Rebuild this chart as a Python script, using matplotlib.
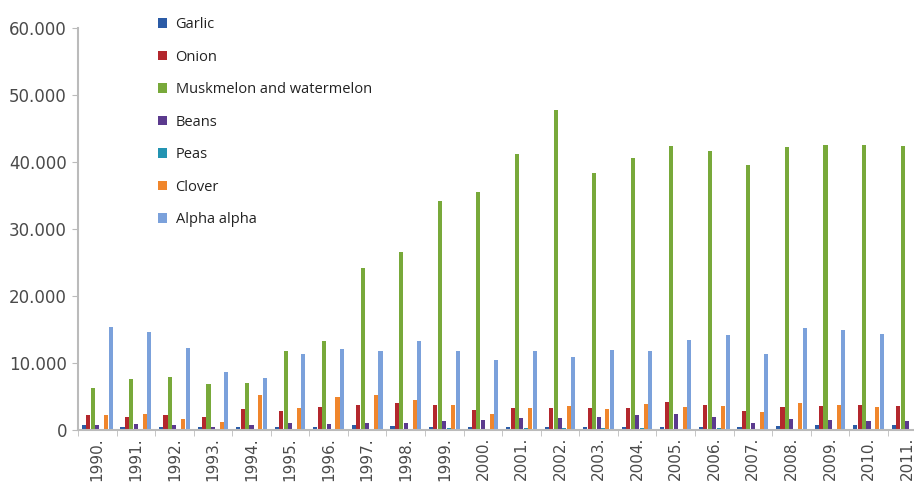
import matplotlib.pyplot as plt
import numpy as np

years = ['1990.', '1991.', '1992.', '1993.', '1994.', '1995.', '1996.', '1997.',
         '1998.', '1999.', '2000.', '2001.', '2002.', '2003.', '2004.', '2005.',
         '2006.', '2007.', '2008.', '2009.', '2010.', '2011.']

garlic = [800, 400, 400, 400, 500, 500, 500, 700, 600, 500, 400,
          500, 500, 500, 500, 400, 500, 500, 600, 800, 800, 800]
onion = [2200, 2000, 2200, 1900, 3100, 2900, 3400, 3800, 4000, 3800, 3000,
         3300, 3300, 3300, 3300, 4200, 3800, 2800, 3500, 3600, 3800, 3600]
melon = [6300, 7600, 7900, 6800, 7000, 11800, 13300, 24200, 26500, 34200, 35500,
         41200, 47700, 38400, 40600, 42400, 41600, 39500, 42200, 42600, 42600, 42400]
beans = [800, 900, 700, 500, 800, 1100, 900, 1100, 1100, 1400, 1500,
         1800, 1800, 2000, 2200, 2400, 2000, 1000, 1700, 1500, 1300, 1400]
peas = [200, 150, 150, 100, 150, 200, 150, 200, 200, 250, 200,
        250, 250, 250, 250, 200, 250, 200, 200, 200, 200, 200]
clover = [2200, 2400, 1700, 1200, 5200, 3300, 5000, 5200, 4500, 3800, 2400,
          3300, 3600, 3100, 3900, 3500, 3600, 2700, 4000, 3800, 3500, 3700]
alpha = [15400, 14600, 12200, 8700, 7700, 11400, 12100, 11800, 13300, 11800, 10500,
         11800, 10900, 11900, 11800, 13500, 14200, 11400, 15200, 15000, 14400, 14000]

series = [
    ('Garlic', garlic, '#2B5BA6'),
    ('Onion', onion, '#B3272D'),
    ('Muskmelon and watermelon', melon, '#78A93A'),
    ('Beans', beans, '#5B3A8E'),
    ('Peas', peas, '#2394B2'),
    ('Clover', clover, '#F0862C'),
    ('Alpha alpha', alpha, '#7BA1DB'),
]

fig = plt.figure(figsize=(9.14, 4.83), dpi=100)
ax = fig.add_axes([78 / 914, 53 / 483, 1 - 78 / 914, 402 / 483])

x = np.arange(len(years))
w = 0.115
for i, (name, vals, col) in enumerate(series):
    ax.bar(x + (i - 3) * w, vals, width=w * 0.92, color=col, label=name)

ax.set_ylim(0, 60000)
ax.set_xlim(-0.5, 21.18)
ax.set_yticks(np.arange(0, 60001, 10000))
ax.set_yticklabels(['0', '10.000', '20.000', '30.000', '40.000', '50.000', '60.000'])
ax.set_xticks(x)
ax.set_xticklabels(years, rotation=90)
ax.set_xticks(np.arange(-0.5, 21.5, 1), minor=True)
ax.tick_params(axis='x', which='major', length=0, pad=5)
ax.tick_params(axis='x', which='minor', length=4, color='#bbbbbb')
ax.tick_params(axis='y', length=4, color='#bbbbbb', pad=4)
for lab in ax.get_yticklabels():
    lab.set_fontsize(12)
    lab.set_color('#4a4a4a')
for lab in ax.get_xticklabels():
    lab.set_fontsize(11)
    lab.set_color('#4a4a4a')

for s in ['top', 'right']:
    ax.spines[s].set_visible(False)
for s in ['left', 'bottom']:
    ax.spines[s].set_color('#bbbbbb')
    ax.spines[s].set_linewidth(1.5)

fig.legend(loc='upper left', bbox_to_anchor=(145 / 914, 1 - 4 / 483), frameon=False,
           handlelength=0.6, handleheight=0.6, handletextpad=0.6, labelspacing=1.2,
           prop={'family': 'Open Sans', 'size': 10.5}, labelcolor='#222222')

fig.savefig('out.png', dpi=100)
